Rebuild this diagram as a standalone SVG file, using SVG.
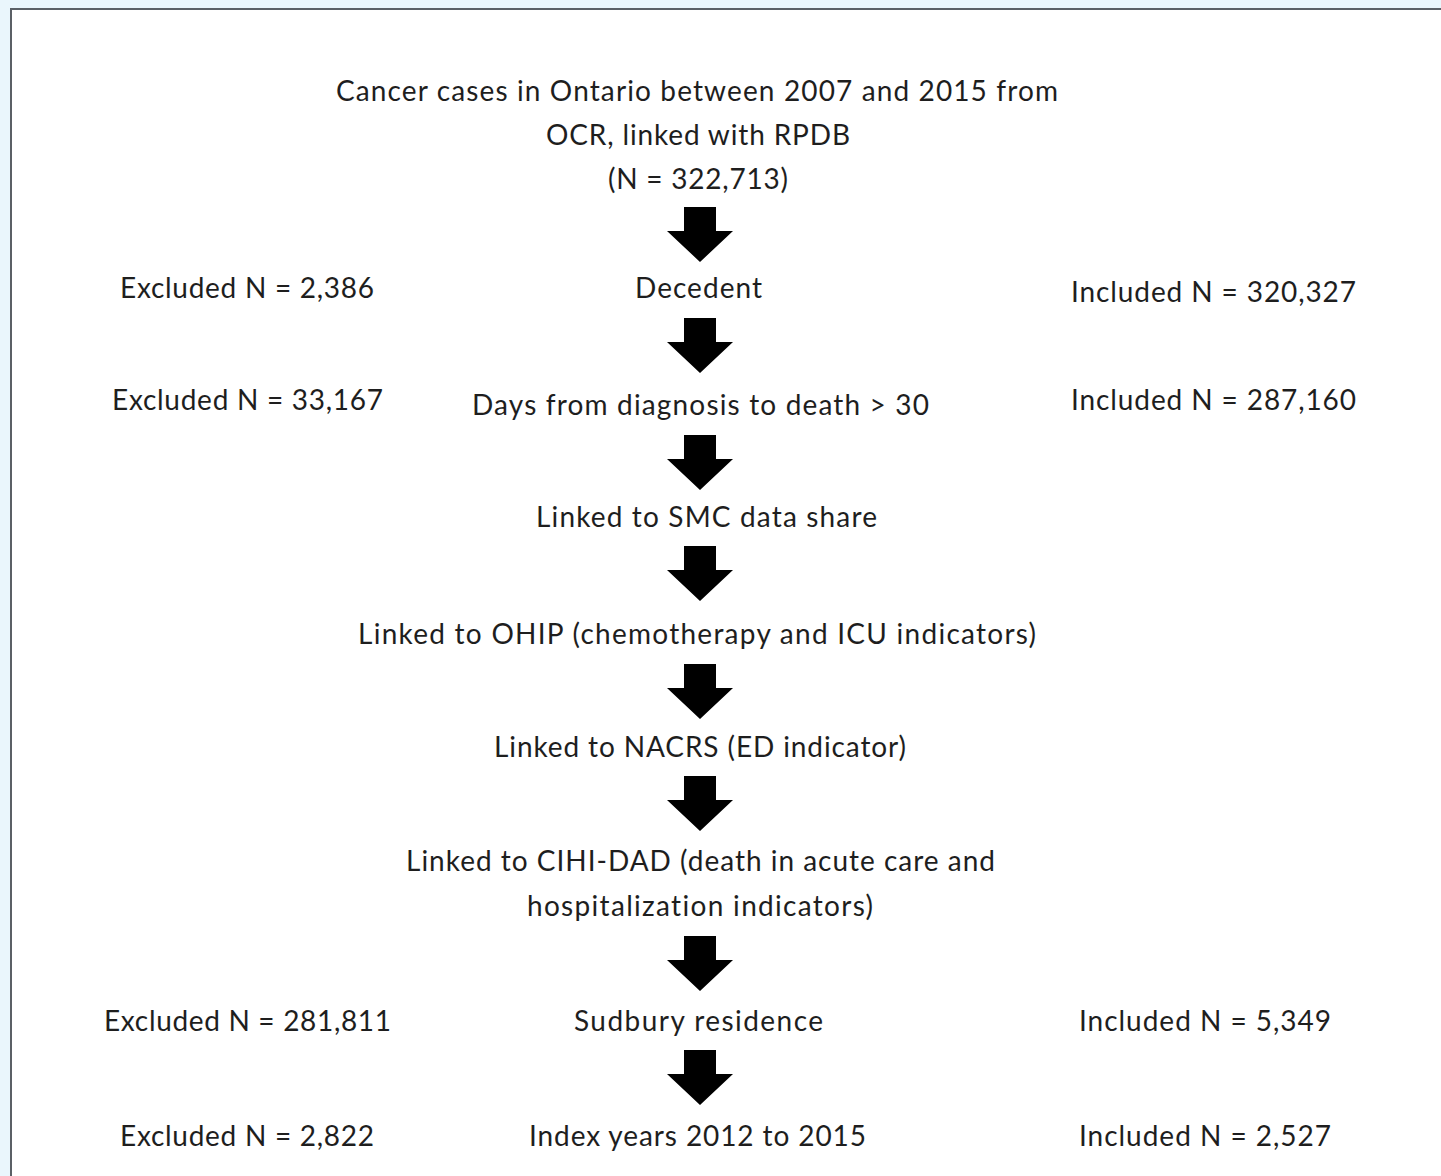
<svg xmlns="http://www.w3.org/2000/svg" width="1441" height="1176" viewBox="0 0 1441 1176">
<style>
.t{font-family:Lato,"Liberation Sans",sans-serif;font-size:28px;fill:#1e1e1e;text-anchor:middle;font-variant-ligatures:none}
.arr{fill:#000}
</style>
<defs>
<path id="down" d="M-16,0 H16 V24 H33 L0,55 L-33,24 H-16 Z"/>
</defs>
<rect x="0" y="0" width="1441" height="1176" fill="#eaf6fc"/>
<rect x="11" y="9" width="1440" height="1180" fill="#ffffff" stroke="#5b6066" stroke-width="2"/>
<g id="connectors" class="arr">
<use href="#down" x="700" y="207"/>
<use href="#down" x="700" y="318"/>
<use href="#down" x="700" y="435"/>
<use href="#down" x="700" y="546"/>
<use href="#down" x="700" y="664"/>
<use href="#down" x="700" y="776"/>
<use href="#down" x="700" y="936"/>
<use href="#down" x="700" y="1050"/>
</g>
<g id="node-start">
<text class="t" x="697" y="101" textLength="722">Cancer cases in Ontario between 2007 and 2015 from</text>
<text class="t" x="698" y="145" textLength="304">OCR, linked with RPDB</text>
<text class="t" x="698" y="189" textLength="180">(N = 322,713)</text>
</g>
<g id="node-decedent"><text class="t" x="698.5" y="298" textLength="127">Decedent</text></g>
<g id="node-excl1"><text class="t" x="247" y="298" textLength="254">Excluded N = 2,386</text></g>
<g id="node-incl1"><text class="t" x="1213.5" y="302" textLength="285">Included N = 320,327</text></g>
<g id="node-days"><text class="t" x="700.5" y="415" textLength="457">Days from diagnosis to death &gt; 30</text></g>
<g id="node-excl2"><text class="t" x="247.5" y="410" textLength="271">Excluded N = 33,167</text></g>
<g id="node-incl2"><text class="t" x="1213.5" y="410" textLength="285">Included N = 287,160</text></g>
<g id="node-smc"><text class="t" x="706.5" y="527" textLength="341">Linked to SMC data share</text></g>
<g id="node-ohip"><text class="t" x="697" y="644" textLength="678">Linked to OHIP (chemotherapy  and ICU indicators)</text></g>
<g id="node-nacrs"><text class="t" x="700" y="757" textLength="412">Linked to NACRS (ED indicator)</text></g>
<g id="node-cihi">
<text class="t" x="700.5" y="871" textLength="589">Linked to CIHI-DAD (death in acute care and</text>
<text class="t" x="700" y="916" textLength="346">hospitalization indicators)</text>
</g>
<g id="node-sudbury"><text class="t" x="698.5" y="1031" textLength="249">Sudbury  residence</text></g>
<g id="node-excl3"><text class="t" x="247.5" y="1031" textLength="287">Excluded N = 281,811</text></g>
<g id="node-incl3"><text class="t" x="1205" y="1031" textLength="252">Included N = 5,349</text></g>
<g id="node-index"><text class="t" x="697.5" y="1146" textLength="337">Index years 2012 to 2015</text></g>
<g id="node-excl4"><text class="t" x="247" y="1146" textLength="254">Excluded N = 2,822</text></g>
<g id="node-incl4"><text class="t" x="1205" y="1146" textLength="252">Included N = 2,527</text></g>
</svg>
